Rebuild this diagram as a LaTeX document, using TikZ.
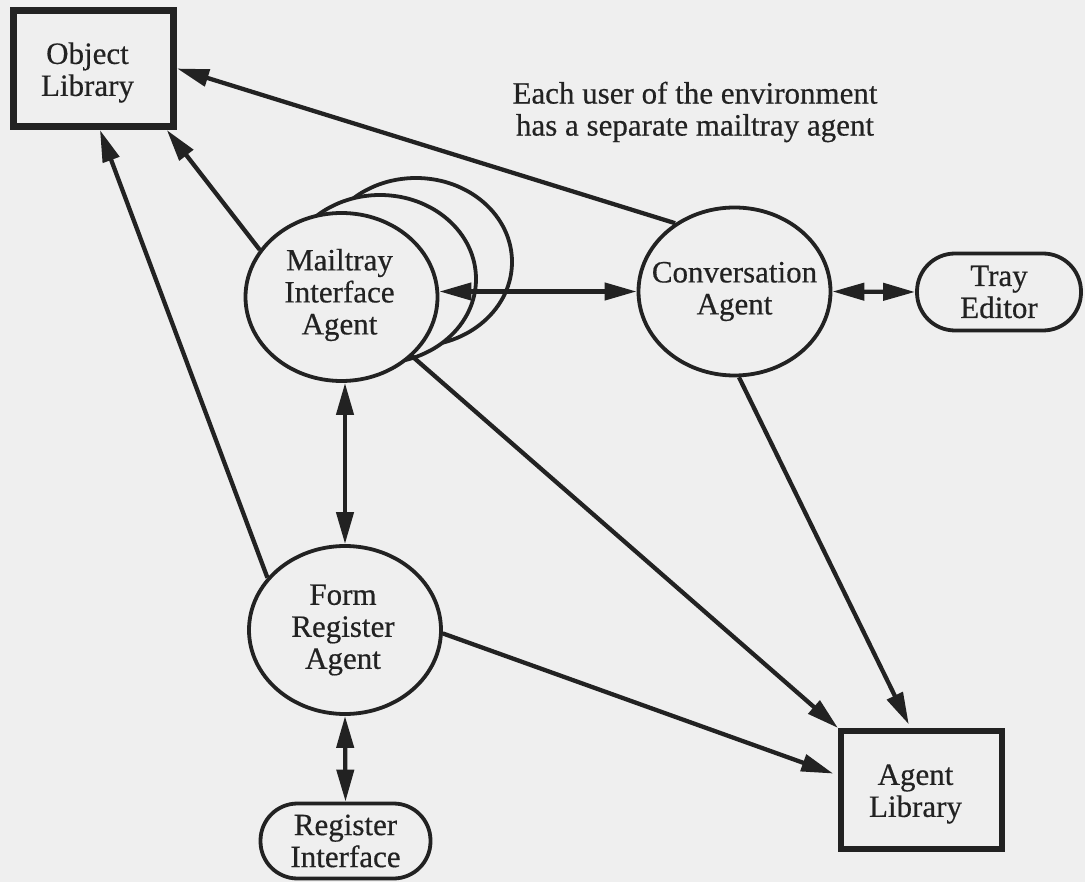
\documentclass[tikz,border=0pt]{standalone}
\usepackage{fontspec}
\setmainfont{Liberation Serif}
\newfontfamily\scanfont{Liberation Serif}[FakeBold=0.5]
\usetikzlibrary{arrows.meta,shapes.geometric}
\definecolor{ink}{RGB}{34,34,34}
\definecolor{paper}{RGB}{239,239,239}
\begin{document}
\begin{tikzpicture}[x=1pt,y=-1pt,
  txt/.style={font=\scanfont\fontsize{31}{32}\selectfont, text=ink, align=center, inner sep=0pt},
  agent/.style={ellipse, draw=ink, line width=3.8pt, fill=paper, minimum width=192pt, minimum height=168pt, inner sep=0pt},
  libbox/.style={rectangle, draw=ink, fill=paper, txt},
  endbox/.style={rectangle, draw=ink, line width=3.8pt, fill=paper, txt},
  tip/.tip={Triangle[length=32pt,width=17pt]},
  conn/.style={draw=ink, line width=4.3pt, -tip},
  bi/.style={draw=ink, line width=4.3pt, tip-tip}
]
\fill[paper] (0,0) rectangle (1085,882);
\useasboundingbox (0,0) rectangle (1085,882);

% boxes
\node[libbox, line width=7pt, minimum width=160pt, minimum height=116pt,
  label={[txt, xshift=-6pt, yshift=-4pt]center:{Object\\Library}}] (obj) at (93.5,68.5) {};
\node[libbox, line width=6pt, minimum width=161pt, minimum height=118pt,
  label={[txt, xshift=-6pt, yshift=-4pt]center:{Agent\\Library}}] (al) at (921.5,790) {};
\node[endbox, rounded corners=38pt, minimum width=164pt, minimum height=77pt] (tray) at (999,292) {Tray\\Editor};
\node[endbox, rounded corners=37pt, minimum width=170pt, minimum height=75pt] (reg) at (345.5,841) {Register\\Interface};

% agents
\node[agent] (mail3) at (416,262) {};
\node[agent] (mail2) at (380,279) {};
\node[agent, label={[txt, xshift=-2pt, yshift=2pt]center:{Mailtray\\Interface\\Agent}}] (mail) at (341.5,297) {};
\node[agent, label={[txt]center:{Conversation\\Agent}}] (conv) at (734.5,291.5) {};
\node[agent, label={[txt, xshift=-2pt]center:{Form\\Register\\Agent}}] (form) at (345,630) {};

% note
\node[txt] (note) at (695,112) {Each user of the environment\\has a separate mailtray agent};

% connectors
\draw[conn] (mail.150) -- (obj.-40);
\draw[conn] (form.146) -- (obj.-84);
\draw[conn] (conv.131) -- (obj.east);
\draw[bi] (mail.east |- conv.west) -- (conv.west);
\draw[bi] (conv.east) -- (tray.west);
\draw[bi] (mail.south -| form.north) -- (form.north);
\draw[conn] (mail.-40) -- (al.north west);
\draw[conn, shorten >=4pt] (conv.-87) -- (al.100);
\draw[conn, shorten >=5pt] (form.-2) -- (al.170);
\draw[bi] (form.south) -- (reg.north);
\end{tikzpicture}
\end{document}
